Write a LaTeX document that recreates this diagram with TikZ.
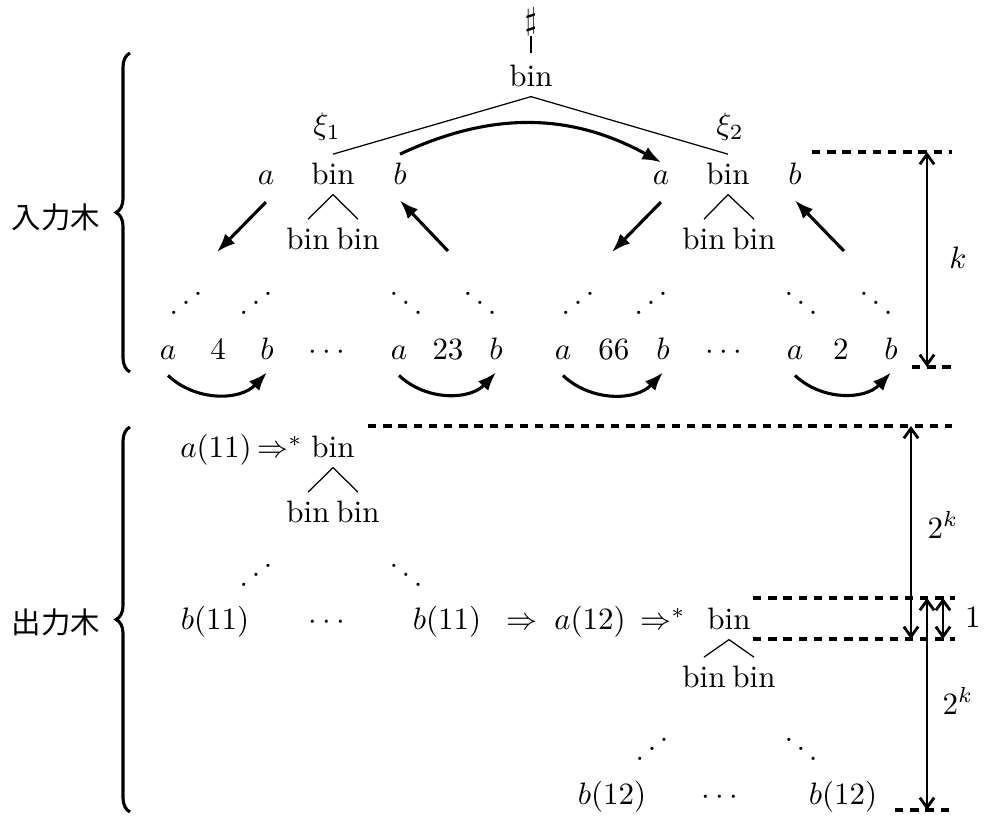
\documentclass[tikz,border=0pt]{standalone}
\usepackage{fontspec}
\newfontfamily\cjk{Noto Sans CJK JP}
\usetikzlibrary{arrows.meta,decorations.pathreplacing,calc}
\begin{document}
\begin{tikzpicture}[x=0.3226pt,y=-0.3226pt,
  t/.style={inner sep=2.8pt, anchor=base},
  tree/.style={line width=0.4pt},
  thk/.style={line width=1pt, -{Latex[length=6pt,width=4.5pt]}},
  dimarr/.style={line width=0.9pt, {Straight Barb[length=3.2pt,width=4.6pt]}-{Straight Barb[length=3.2pt,width=4.6pt]}},
  dsh/.style={line width=1pt, dash pattern=on 2.7pt off 2.2pt},
  brc/.style={decorate, decoration={brace, amplitude=4.5pt}, line width=1pt},
  jp/.style={font=\cjk\fontsize{9.5pt}{11pt}\selectfont, inner sep=0pt}]
\useasboundingbox (0,0) rectangle (985,820);

% ---------- input tree ----------
\node[inner sep=0pt, anchor=south] (sharp) at (531,36) {$\sharp$};
\node[t] (top) at (531,87) {$\mathrm{bin}$};
\draw[tree] (sharp.south) -- ([yshift=1pt]top.north);
\node (xi1) at (327,127) {$\xi_1$};
\node (xi2) at (730,127) {$\xi_2$};

\node[t] (la) at (266,185) {$a$};
\node[t] (lbin) at (333,185) {$\mathrm{bin}$};
\node[t] (lb) at (400,185) {$b$};
\node[t] (lc1) at (308,250) {$\mathrm{bin}$};
\node[t] (lc2) at (358,250) {$\mathrm{bin}$};

\node[t] (ra) at (661,185) {$a$};
\node[t] (rbin) at (728,185) {$\mathrm{bin}$};
\node[t] (rb) at (795,185) {$b$};
\node[t] (rc1) at (704,250) {$\mathrm{bin}$};
\node[t] (rc2) at (754,250) {$\mathrm{bin}$};

\draw[tree] (top.south) -- (lbin.north);
\draw[tree] (top.south) -- (rbin.north);
\draw[tree] (lbin.south) -- (lc1.north);
\draw[tree] (lbin.south) -- (lc2.north);
\draw[tree] (rbin.south) -- (rc1.north);
\draw[tree] (rbin.south) -- (rc2.north);

\draw[thk] (lb.north) to[bend left=27] (ra.north);

\coordinate (e1) at (217,252);
\coordinate (s2) at (448,251);
\coordinate (e3) at (612,252);
\coordinate (s4) at (844,251);
\draw[thk] ([yshift=-2.5pt]la.south) -- (e1);
\draw[thk] (s2) -- ([yshift=-2pt]lb.south);
\draw[thk] ([yshift=-2.5pt]ra.south) -- (e3);
\draw[thk] (s4) -- ([yshift=-2pt]rb.south);

\node (d1) at (186,294) {\reflectbox{$\ddots$}};
\node (d2) at (256,294) {\reflectbox{$\ddots$}};
\node (d3) at (406,294) {$\ddots$};
\node (d4) at (480,294) {$\ddots$};
\node (d5) at (578,294) {\reflectbox{$\ddots$}};
\node (d6) at (651,294) {\reflectbox{$\ddots$}};
\node (d7) at (801,294) {$\ddots$};
\node (d8) at (876,294) {$\ddots$};

\node[t] (a1) at (168,360) {$a$};
\node[t] (n4) at (218,360) {$4$};
\node[t] (b1) at (267,360) {$b$};
\node[t] (cd1) at (327,360) {$\cdots$};
\node[t] (a2) at (399,360) {$a$};
\node[t] (n23) at (448,360) {$23$};
\node[t] (b2) at (496,360) {$b$};
\node[t] (a3) at (563,360) {$a$};
\node[t] (n66) at (614,360) {$66$};
\node[t] (b3) at (663,360) {$b$};
\node[t] (cd2) at (724,360) {$\cdots$};
\node[t] (a4) at (795,360) {$a$};
\node[t] (n2) at (841,360) {$2$};
\node[t] (b4) at (891,360) {$b$};

\draw[thk] ([yshift=-2pt]a1.south) to[bend right=45] ([yshift=-1pt]b1.south);
\draw[thk] ([yshift=-2pt]a2.south) to[bend right=45] ([yshift=-1pt]b2.south);
\draw[thk] ([yshift=-2pt]a3.south) to[bend right=45] ([yshift=-1pt]b3.south);
\draw[thk] ([yshift=-2pt]a4.south) to[bend right=45] ([yshift=-1pt]b4.south);

% k dimension
\coordinate (k1) at (812,152); \coordinate (k2) at (952,152);
\coordinate (k3) at (912,367); \coordinate (k4) at (952,367);
\coordinate (k5) at (927,152); \coordinate (k6) at (927,367);
\draw[dsh] (k1) -- (k2);
\draw[dsh] (k3) -- (k4);
\draw[dimarr] (k5) -- (k6);
\node (klab) at (958,258) {$k$};

% braces
\draw[brc] (130,372) -- (130,53);
\node[jp] (lin) at (56,217) {入力木};
\draw[brc] (130,812) -- (130,427);
\node[jp] (lout) at (56,622) {出力木};

% ---------- output tree ----------
\node[t] (oa11) at (216,458) {$a(11)$};
\node[t] (oi1) at (280,458) {$\Rightarrow^*$};
\node[t] (obin1) at (333,458) {$\mathrm{bin}$};
\node[t] (oc1) at (308,523) {$\mathrm{bin}$};
\node[t] (oc2) at (358,523) {$\mathrm{bin}$};
\draw[tree] (obin1.south) -- (oc1.north);
\draw[tree] (obin1.south) -- (oc2.north);
\node (od1) at (256,566) {\reflectbox{$\ddots$}};
\node (od2) at (406,566) {$\ddots$};

\node[t] (ob11a) at (215,630) {$b(11)$};
\node[t] (ocd1) at (327,630) {$\cdots$};
\node[t] (ob11b) at (447,630) {$b(11)$};
\node[t] (oi2) at (522,630) {$\Rightarrow$};
\node[t] (oa12) at (590,630) {$a(12)$};
\node[t] (oi3) at (663,630) {$\Rightarrow^*$};
\node[t] (obin2) at (729,630) {$\mathrm{bin}$};
\node[t] (oc3) at (704,688) {$\mathrm{bin}$};
\node[t] (oc4) at (754,688) {$\mathrm{bin}$};
\draw[tree] (obin2.south) -- (oc3.north);
\draw[tree] (obin2.south) -- (oc4.north);
\node (od3) at (652,740) {\reflectbox{$\ddots$}};
\node (od4) at (801,740) {$\ddots$};

\node[t] (ob12a) at (612,805) {$b(12)$};
\node[t] (ocd2) at (720,805) {$\cdots$};
\node[t] (ob12b) at (843,805) {$b(12)$};

% output dimensions
\coordinate (p1) at (368,426); \coordinate (p2) at (952,426);
\coordinate (p3) at (753,598); \coordinate (p4) at (955,598);
\coordinate (p5) at (753,639); \coordinate (p6) at (955,639);
\coordinate (p7) at (895,810); \coordinate (p8) at (952,810);
\draw[dsh] (p1) -- (p2);
\draw[dsh] (p3) -- (p4);
\draw[dsh] (p5) -- (p6);
\draw[dsh] (p7) -- (p8);
\coordinate (q1) at (911,426); \coordinate (q2) at (911,639);
\coordinate (q3) at (943,598); \coordinate (q4) at (943,639);
\coordinate (q5) at (927,598); \coordinate (q6) at (927,810);
\draw[dimarr] (q1) -- (q2);
\draw[dimarr] (q3) -- (q4);
\draw[dimarr] (q5) -- (q6);
\node (l2k1) at (943,525) {$2^k$};
\node (l1) at (973,618) {$1$};
\node (l2k2) at (958,701) {$2^k$};
\end{tikzpicture}
\end{document}
